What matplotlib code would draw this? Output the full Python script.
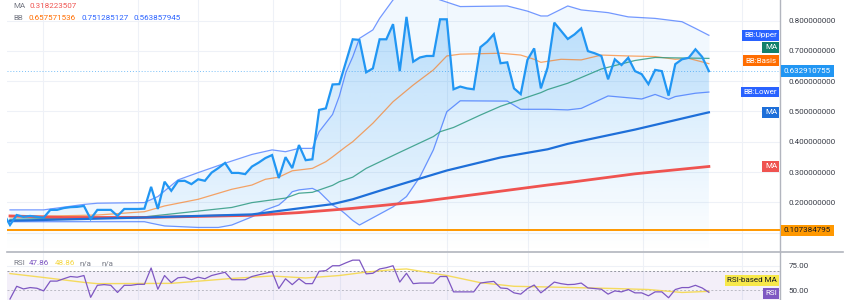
import numpy as np
import matplotlib
matplotlib.use("Agg")
import matplotlib.pyplot as plt
from matplotlib.patches import Polygon

plt.rcParams['font.family'] = ['Roboto', 'DejaVu Sans']

# ---------------- data (bar index -> value) ----------------
price_start = -1
price = [0.165, 0.125, 0.158, 0.152, 0.155, 0.152, 0.149, 0.175, 0.175, 0.181, 0.184,
         0.185, 0.188, 0.145, 0.175, 0.175, 0.175, 0.155, 0.178, 0.178, 0.178,
         0.179, 0.251, 0.178, 0.268, 0.238, 0.270, 0.271, 0.260, 0.276, 0.271,
         0.298, 0.313, 0.330, 0.297, 0.297, 0.293, 0.318, 0.331, 0.346, 0.356,
         0.280, 0.349, 0.313, 0.389, 0.339, 0.342, 0.505, 0.510, 0.589, 0.590,
         0.664, 0.738, 0.736, 0.629, 0.642, 0.738, 0.738, 0.788, 0.633, 0.812,
         0.664, 0.678, 0.683, 0.683, 0.804, 0.804, 0.573, 0.582, 0.576, 0.573,
         0.712, 0.730, 0.755, 0.659, 0.662, 0.576, 0.557, 0.670, 0.708, 0.576,
         0.645, 0.793, 0.766, 0.739, 0.754, 0.774, 0.699, 0.692, 0.683, 0.606,
         0.672, 0.653, 0.677, 0.633, 0.623, 0.590, 0.637, 0.633, 0.552, 0.656,
         0.672, 0.677, 0.705, 0.680, 0.632910755]

bb_upper_bar = [0, 5, 6, 11, 13, 20, 22, 25, 28, 32, 36, 39, 41, 43, 45, 46, 48, 49, 50,
                51, 52, 54, 55, 57, 60, 64, 67, 74, 77, 79, 80, 83, 85, 89, 92, 96,
                100, 102, 104]
bb_upper = [0.175, 0.175, 0.178, 0.193, 0.197, 0.199, 0.219, 0.274, 0.298, 0.329, 0.358,
            0.373, 0.367, 0.378, 0.378, 0.433, 0.490, 0.550, 0.630, 0.680, 0.741,
            0.769, 0.807, 0.868, 0.905, 0.868, 0.846, 0.848, 0.831, 0.815, 0.815,
            0.848, 0.835, 0.826, 0.812, 0.807, 0.796, 0.774, 0.751285127]

bb_lower_bar = [0, 20, 21, 23, 28, 31, 33, 36, 38, 40, 41, 42, 43, 45, 46, 47, 48, 49, 50,
                51, 52, 57, 59, 61, 63, 65, 67, 74, 76, 80, 83, 85, 89, 92, 94, 96,
                98, 99, 102, 104]
bb_lower = [0.136, 0.136, 0.131, 0.122, 0.117, 0.117, 0.125, 0.152, 0.175, 0.191, 0.210,
            0.235, 0.241, 0.246, 0.235, 0.213, 0.191, 0.178, 0.160, 0.140, 0.125,
            0.185, 0.219, 0.284, 0.373, 0.499, 0.535, 0.534, 0.507, 0.507, 0.505,
            0.510, 0.551, 0.545, 0.541, 0.556, 0.540, 0.549, 0.560, 0.563857945]

bb_basis_bar = [0, 13, 20, 23, 28, 33, 36, 38, 40, 42, 45, 47, 48, 50, 51, 54, 57, 60, 63,
                65, 67, 73, 76, 78, 79, 82, 85, 88, 92, 96, 99, 101, 104]
bb_basis = [0.152, 0.158, 0.169, 0.188, 0.210, 0.243, 0.257, 0.276, 0.283, 0.304, 0.312,
            0.334, 0.350, 0.384, 0.400, 0.461, 0.532, 0.587, 0.637, 0.683, 0.689,
            0.692, 0.686, 0.672, 0.662, 0.672, 0.670, 0.686, 0.683, 0.681, 0.672,
            0.675, 0.657571536]

ma_green_bar = [0, 20, 33, 36, 41, 43, 45, 48, 49, 51, 53, 58, 63, 64, 66, 70, 73, 75, 79,
                80, 83, 88, 93, 96, 98, 104]
ma_green = [0.144, 0.152, 0.183, 0.199, 0.214, 0.230, 0.233, 0.256, 0.268, 0.283, 0.312,
            0.365, 0.417, 0.433, 0.447, 0.488, 0.517, 0.532, 0.562, 0.572, 0.593,
            0.640, 0.668, 0.678, 0.677, 0.675]

ma_blue_bar = [0, 20, 36, 43, 48, 51, 55, 59, 65, 73, 80, 83, 93, 103, 104]
ma_blue = [0.139, 0.150, 0.160, 0.180, 0.194, 0.210, 0.238, 0.265, 0.305, 0.348, 0.375,
           0.393, 0.440, 0.492, 0.497]

ma_red_bar = [0, 8, 20, 36, 43, 51, 61, 70, 80, 83, 93, 103, 104]
ma_red = [0.155, 0.150, 0.150, 0.157, 0.166, 0.180, 0.202, 0.228, 0.257, 0.265, 0.294,
          0.316, 0.318223507]

hline_level = 0.107384795

rsi_start = 0
rsi = [41, 54, 51.3, 52.7, 52, 49.3, 59.3, 59.3, 61.7, 64, 63.3, 65, 42.7, 55, 55.7, 55,
       47.7, 55, 55, 56, 56, 72.7, 51, 65, 57.7, 62.7, 63.3, 60.7, 63.3, 61.7, 65,
       66.7, 68.3, 60.7, 60.7, 60.7, 64, 65.7, 67.3, 69, 51.7, 61.7, 55.7, 61.7, 56.7,
       56.7, 69.3, 70, 75, 75, 78, 80.7, 80.7, 66.7, 67.3, 71.7, 73, 75, 58.3, 67.3,
       56.7, 57.3, 57.3, 57.3, 64, 64, 48.3, 48.3, 48.3, 48.3, 57.3, 58.3, 59, 52.3,
       51.7, 47.3, 46, 51.7, 55.3, 47.3, 52.7, 58.3, 56.7, 55.7, 56, 57.3, 52.3, 51.7,
       51, 46, 49.3, 48.3, 50.7, 47.3, 47.3, 44.3, 48.3, 48.3, 42.3, 50.7, 52.7, 52.7,
       55, 52.3, 47.86]
rsi_ma_bar = [0, 5, 11, 13, 24, 33, 39, 44, 49, 53, 57, 59, 65, 70, 75, 80, 90, 95, 100, 104]
rsi_ma = [67, 63, 58, 56.7, 57, 62, 64.5, 62.5, 65, 68.5, 71, 71.7, 65, 57.7, 54, 53.3,
          51.7, 50.7, 47.7, 48.86]

price_ticks = [0.2, 0.3, 0.4, 0.5, 0.6, 0.7, 0.8]
rsi_ticks = [50, 75]
time_grid = [4.9, 19.0, 28.0, 39.1, 49.1, 65.0, 77.1, 94.2, 108.9]

# ---------------- figure ----------------
W, H = 850, 300
fig = plt.figure(figsize=(W / 100, H / 100), dpi=100)
fig.patch.set_facecolor('white')

x_left, x_right = 7, 780
ax = fig.add_axes([x_left / W, 1 - 252 / H, (x_right - x_left) / W, 252 / H])
rx = fig.add_axes([x_left / W, 0, (x_right - x_left) / W, 47 / H])

bar_px = lambda px: (px - 10) / 6.72
xlim = (bar_px(x_left), bar_px(x_right))
ylim = (0.036, 0.8677)

grid_c = '#eef1f7'
axis_c = '#b2b5be'
txt_c = '#363a45'
fs = 5.8

for a in (ax, rx):
    a.set_xlim(*xlim)
    for s in ('top', 'left', 'bottom'):
        a.spines[s].set_visible(False)
    a.spines['right'].set_color(axis_c)
    a.spines['right'].set_linewidth(1.0)
    a.yaxis.tick_right()
    a.tick_params(axis='y', length=0, pad=6, labelsize=fs, labelcolor=txt_c)
    a.set_xticks([])
    for g in time_grid:
        a.axvline(g, color=grid_c, lw=0.8, zorder=0)

ax.set_ylim(*ylim)
ax.set_yticks(price_ticks)
ax.set_yticklabels([f'{v:.9f}' for v in price_ticks])
for v in [0.1] + price_ticks:
    ax.axhline(v, color=grid_c, lw=0.8, zorder=0)

pb = np.arange(price_start, price_start + len(price))
pv = np.array(price)

# BB fill
fine = np.linspace(0, 104, 600)
up_f = np.interp(fine, bb_upper_bar, bb_upper)
lo_f = np.interp(fine, bb_lower_bar, bb_lower)
ax.fill_between(fine, lo_f, up_f, color='#2196f3', alpha=0.06, lw=0, zorder=1)

# price area gradient
grad = np.zeros((256, 1, 4))
grad[:, 0, 0] = 33 / 255
grad[:, 0, 1] = 150 / 255
grad[:, 0, 2] = 243 / 255
grad[:, 0, 3] = np.linspace(0.28, 0.0, 256)
poly_xy = np.vstack([np.column_stack([pb, pv]),
                     [[pb[-1], ylim[0]], [pb[0], ylim[0]]]])
poly = Polygon(poly_xy, closed=True, facecolor='none', edgecolor='none')
ax.add_patch(poly)
im = ax.imshow(grad, aspect='auto', extent=[pb[0], pb[-1], ylim[0], ylim[1]],
               origin='upper', zorder=1.5, interpolation='bilinear')
im.set_clip_path(poly)
ax.set_xlim(*xlim)
ax.set_ylim(*ylim)

# lines
ax.plot(bb_upper_bar, bb_upper, color='#2962ff', lw=0.9, alpha=0.65, zorder=3)
ax.plot(bb_lower_bar, bb_lower, color='#2962ff', lw=0.9, alpha=0.65, zorder=3)
ax.plot(bb_basis_bar, bb_basis, color='#ff6d00', lw=0.9, alpha=0.6, zorder=3)
ax.plot(ma_green_bar, ma_green, color='#2e9a82', lw=0.9, alpha=0.85, zorder=3)
ax.plot(ma_red_bar, ma_red, color='#ef5350', lw=2.0, zorder=3)
ax.plot(ma_blue_bar, ma_blue, color='#1e6fd9', lw=1.6, zorder=3)
ax.axhline(hline_level, color='#ff9800', lw=1.4, zorder=3)
ax.axhline(price[-1], color='#2196f3', lw=0.7, ls=(0, (1, 2)), alpha=0.6, zorder=2)
ax.plot(pb, pv, color='#2196f3', lw=1.6, zorder=4, solid_joinstyle='miter')

# RSI panel
rx.set_ylim(40, 88)
rx.set_yticks(rsi_ticks)
rx.set_yticklabels([f'{v:.2f}' for v in rsi_ticks])
rx.axhspan(30, 70, color='#7e57c2', alpha=0.09, lw=0, zorder=0)
rx.axhline(75, color=grid_c, lw=0.8, zorder=0)
rx.axhline(70, color='#9598a1', lw=0.7, ls=(0, (2, 2)), zorder=1)
rx.axhline(50, color='#9598a1', lw=0.7, ls=(0, (2, 2)), alpha=0.6, zorder=1)
rb = np.arange(rsi_start, rsi_start + len(rsi))
rx.plot(rsi_ma_bar, rsi_ma, color='#f5d742', lw=1.0, alpha=0.85, zorder=2)
rx.plot(rb, rsi, color='#7e57c2', lw=0.9, zorder=3)

# panel separator
fig.add_artist(plt.Line2D([x_left / W, 843 / W], [1 - 252 / H, 1 - 252 / H],
                          color=axis_c, lw=1.2, transform=fig.transFigure))


def tag(a, y, text, fc, tc, side, dy=0.0):
    if side == 'left':
        a.annotate(text, xy=(1, y), xycoords=('axes fraction', 'data'),
                   xytext=(-3, dy), textcoords='offset pixels', ha='right', va='center',
                   fontsize=fs, color=tc, annotation_clip=False, zorder=10,
                   bbox=dict(boxstyle='square,pad=0.3', fc=fc, ec='none'))
    else:
        a.annotate(text, xy=(1, y), xycoords=('axes fraction', 'data'),
                   xytext=(4, dy), textcoords='offset pixels', ha='left', va='center',
                   fontsize=fs, color=tc, annotation_clip=False, zorder=10,
                   bbox=dict(boxstyle='square,pad=0.35', fc=fc, ec='none'))


tag(ax, bb_upper[-1], 'BB:Upper', '#2962ff', 'white', 'left')
tag(ax, ma_green[-1], 'MA', '#12806b', 'white', 'left', dy=11)
tag(ax, bb_basis[-1], 'BB:Basis', '#ff6d00', 'white', 'left', dy=3)
tag(ax, bb_lower[-1], 'BB:Lower', '#2962ff', 'white', 'left')
tag(ax, ma_blue[-1], 'MA', '#1e6fd9', 'white', 'left')
tag(ax, ma_red[-1], 'MA', '#ef5350', 'white', 'left')
tag(ax, price[-1], f'{price[-1]:.9f}', '#2196f3', 'white', 'right')
tag(ax, hline_level, f'{hline_level:.9f}', '#ff9800', '#131722', 'right')
tag(rx, rsi_ma[-1], 'RSI-based MA', '#f7e84a', '#131722', 'left', dy=11)
tag(rx, rsi[-1], 'RSI', '#7e57c2', 'white', 'left', dy=-1)

# legends
def ftxt(px, py, s, c):
    fig.text(px / W, 1 - py / H, s, color=c, fontsize=fs, ha='left', va='center')

ftxt(13, 6, 'MA', '#787b86')
ftxt(29, 6, '0.318223507', '#ef5350')
ftxt(13, 18, 'BB', '#787b86')
ftxt(28, 18, '0.657571536', '#ff6d00')
ftxt(81, 18, '0.751285127', '#2962ff')
ftxt(134, 18, '0.563857945', '#2962ff')
ftxt(13, 263, 'RSI', '#787b86')
ftxt(29, 263, '47.86', '#7e57c2')
ftxt(55, 263, '48.86', '#f5d742')
ftxt(80, 263, 'n/a', '#787b86')
ftxt(101, 263, 'n/a', '#787b86')

fig.savefig('out.png', dpi=100)
